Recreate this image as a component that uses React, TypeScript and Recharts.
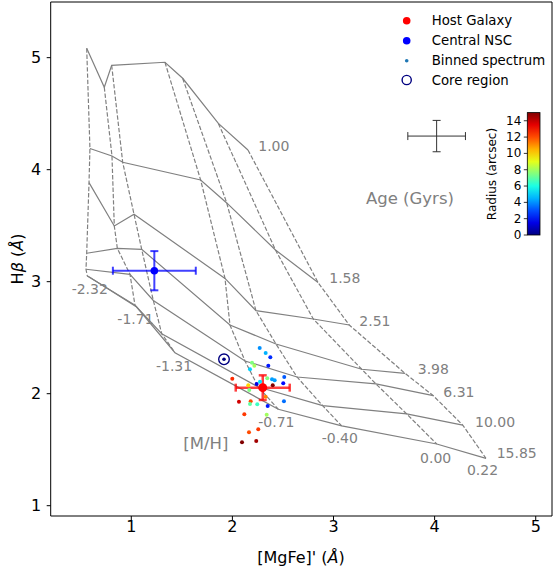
import React from 'react';
import { ComposedChart, Line, Scatter, XAxis, YAxis, ErrorBar, ReferenceLine } from 'recharts';

// ---- model grid (rows = ages, columns = metallicities) ----
const ageLabels = ['1.00', '1.58', '2.51', '3.98', '6.31', '10.00', '15.85'];
const metalLabels = ['-2.32', '-1.71', '-1.31', '-0.71', '-0.40', '0.00', '0.22'];

const modelMgFe = [
  [0.559, 0.733, 0.806, 1.333, 1.508, 1.861, 2.154],
  [0.591, 0.809, 0.915, 1.686, 1.944, 2.426, 2.847],
  [0.582, 0.832, 1.027, 1.927, 2.233, 2.8, 3.156],
  [0.559, 0.862, 1.103, 1.976, 2.431, 3.279, 3.707],
  [0.552, 0.987, 1.218, 2.125, 2.639, 3.42, 3.987],
  [0.565, 1.037, 1.301, 2.256, 2.893, 3.724, 4.278],
  [0.585, 1.053, 1.432, 2.454, 3.081, 4.021, 4.508],
];
const modelHbeta = [
  [5.084, 4.736, 4.932, 4.959, 4.816, 4.413, 4.176],
  [4.189, 4.122, 4.066, 3.908, 3.703, 3.283, 2.993],
  [3.884, 3.497, 3.602, 3.029, 2.741, 2.667, 2.613],
  [3.254, 3.298, 3.289, 2.613, 2.444, 2.218, 2.182],
  [3.111, 3.066, 2.832, 2.292, 2.149, 2.087, 1.982],
  [3.051, 2.789, 2.536, 2.06, 1.893, 1.819, 1.72],
  [3.042, 2.774, 2.366, 1.861, 1.712, 1.551, 1.423],
];

// label anchor positions (left edge, vertical centre)
const ageLabelX = [2.256, 2.958, 3.255, 3.833, 4.086, 4.4, 4.614];
const ageLabelY = [4.214, 3.03, 2.652, 2.221, 2.018, 1.75, 1.468];
const metalLabelX = [0.41, 0.862, 1.244, 2.256, 2.883, 3.856, 4.32];
const metalLabelY = [2.932, 2.664, 2.247, 1.75, 1.602, 1.423, 1.319];
const axisNoteText = ['[M/H]', 'Age (Gyrs)'];
const axisNoteX = [1.514, 3.321];
const axisNoteY = [1.557, 3.745];

// ---- binned spectra ----
const binMgFe = [2.27, 2.329, 2.375, 2.194, 2.217, 2.355, 2.174, 1.999, 2.345, 2.392, 2.418, 2.513, 2.503, 2.399, 2.24, 2.157, 2.273, 2.167, 2.329, 2.065, 2.181, 2.174, 2.246, 2.349, 2.51, 2.118, 2.339, 2.256, 2.164, 2.095, 2.236];
const binHbeta = [2.408, 2.363, 2.325, 2.277, 2.25, 2.25, 2.218, 2.134, 2.138, 2.129, 2.12, 2.149, 2.093, 2.075, 2.087, 2.075, 2.107, 2.033, 1.973, 1.929, 1.932, 1.908, 1.905, 1.89, 1.932, 1.816, 1.812, 1.682, 1.655, 1.566, 1.578];
const binRadius = [4, 4.5, 2.5, 7.5, 8, 2.2, 5, 12.5, 7.5, 4.2, 4.2, 3.2, 2, 15, 1.5, 10, 5.2, 7.5, 11.2, 13.8, 12, 7, 6.5, 2.2, 3.5, 12.3, 8, 12.3, 12, 15, 14.5];

// ---- single measurements ----
const hostPoint = [{ x: 2.3, y: 2.054, ex: 0.267, ey: 0.11 }];
const nscPoint = [{ x: 1.228, y: 3.098, ex: 0.41, ey: 0.175 }];
const corePoint = [{ x: 1.917, y: 2.307 }];
const typicalError = [{ x: 4.02, y: 4.3, ex: 0.285, ey: 0.14 }];

const xTicks = [1, 2, 3, 4, 5];
const yTicks = [1, 2, 3, 4, 5];
const cbarTicks = [0, 2, 4, 6, 8, 10, 12, 14];
const radiusMax = 15;

const FONT = 'DejaVu Sans, sans-serif';
const GRAY = '#808080';

function clamp(v: number) {
  return Math.max(0, Math.min(1, v));
}
function jet(t: number) {
  const r = clamp(1.5 - Math.abs(4 * t - 3));
  const g = clamp(1.5 - Math.abs(4 * t - 2));
  const b = clamp(1.5 - Math.abs(4 * t - 1));
  const h = (v: number) => Math.round(v * 255).toString(16).padStart(2, '0');
  return '#' + h(r) + h(g) + h(b);
}

const ageLines = modelMgFe.map((row, i) => row.map((x, j) => ({ x, y: modelHbeta[i][j] })));
const metalLines = metalLabels.map((_, j) => modelMgFe.map((row, i) => ({ x: row[j], y: modelHbeta[i][j] })));
const binData = binMgFe.map((x, i) => ({ x, y: binHbeta[i], r: binRadius[i] }));
const textData = [
  ...ageLabels.map((t, i) => ({ x: ageLabelX[i], y: ageLabelY[i], text: t, size: 14 })),
  ...metalLabels.map((t, i) => ({ x: metalLabelX[i], y: metalLabelY[i], text: t, size: 14 })),
  ...axisNoteText.map((t, i) => ({ x: axisNoteX[i], y: axisNoteY[i], text: t, size: 16.5 })),
];

const TextShape = (p: any) => (
  <text x={p.cx} y={p.cy} fill={GRAY} fontSize={p.payload.size} fontFamily={FONT} textAnchor="start" dominantBaseline="central">
    {p.payload.text}
  </text>
);
const BinShape = (p: any) => <circle cx={p.cx} cy={p.cy} r={2} fill={jet(p.payload.r / radiusMax)} />;
const NoShape = () => <g />;
const HostShape = (p: any) => <circle cx={p.cx} cy={p.cy} r={4.5} fill="#ff0000" />;
const NscShape = (p: any) => <circle cx={p.cx} cy={p.cy} r={3.8} fill="#0000ff" />;
const CoreShape = (p: any) => (
  <g>
    <circle cx={p.cx} cy={p.cy} r={5.3} fill="none" stroke="#000080" strokeWidth={1.4} />
    <circle cx={p.cx} cy={p.cy} r={1.8} fill="#000080" />
  </g>
);

const legendItems = [
  { label: 'Host Galaxy', kind: 'host' },
  { label: 'Central NSC', kind: 'nsc' },
  { label: 'Binned spectrum', kind: 'bin' },
  { label: 'Core region', kind: 'core' },
];

export default function App() {
  const cbTop = 112.6;
  const cbBottom = 235;
  const cbLeft = 527.3;
  const cbWidth = 12.7;
  const stops = Array.from({ length: 11 }, (_, i) => i / 10);
  return (
    <div style={{ position: 'absolute', left: 0, top: 0, width: 555, height: 574, background: '#fff' }}>
      <ComposedChart width={555} height={574} margin={{ top: 2, right: 3, left: 0, bottom: 0 }}>
        <XAxis
          type="number"
          dataKey="x"
          domain={[0.203, 5.161]}
          ticks={xTicks}
          allowDataOverflow
          height={58}
          tickSize={4}
          tickMargin={1}
          stroke="#000"
          tick={{ fill: '#000', fontSize: 16, fontFamily: FONT }}
        />
        <YAxis
          type="number"
          dataKey="y"
          domain={[0.908, 5.497]}
          ticks={yTicks}
          allowDataOverflow
          width={50.7}
          tickSize={4}
          tickMargin={5.5}
          stroke="#000"
          tick={{ fill: '#000', fontSize: 16, fontFamily: FONT }}
        />
        <ReferenceLine y={5.497} stroke="#000" strokeWidth={1} />
        <ReferenceLine x={5.161} stroke="#000" strokeWidth={1} />
        {ageLines.map((d, i) => (
          <Line key={'a' + i} data={d} dataKey="y" type="linear" stroke={GRAY} strokeWidth={1.2} dot={false} activeDot={false} isAnimationActive={false} />
        ))}
        {metalLines.map((d, i) => (
          <Line key={'m' + i} data={d} dataKey="y" type="linear" stroke={GRAY} strokeWidth={1.2} strokeDasharray="4.4 1.9" dot={false} activeDot={false} isAnimationActive={false} />
        ))}
        <Scatter data={textData} shape={TextShape} isAnimationActive={false} />
        <Scatter data={binData} shape={BinShape} isAnimationActive={false} />
        <Scatter data={corePoint} shape={CoreShape} isAnimationActive={false} />
        <Scatter data={typicalError} shape={NoShape} isAnimationActive={false}>
          <ErrorBar dataKey="ex" direction="x" width={4} stroke="#333" strokeWidth={1} />
          <ErrorBar dataKey="ey" direction="y" width={4} stroke="#333" strokeWidth={1} />
        </Scatter>
        <Scatter data={nscPoint} shape={NscShape} isAnimationActive={false}>
          <ErrorBar dataKey="ex" direction="x" width={4} stroke="#0000ff" strokeOpacity={0.75} strokeWidth={2} />
          <ErrorBar dataKey="ey" direction="y" width={4} stroke="#0000ff" strokeOpacity={0.75} strokeWidth={2} />
        </Scatter>
        <Scatter data={hostPoint} shape={HostShape} isAnimationActive={false}>
          <ErrorBar dataKey="ex" direction="x" width={4} stroke="#ff0000" strokeOpacity={0.75} strokeWidth={2.5} />
          <ErrorBar dataKey="ey" direction="y" width={4} stroke="#ff0000" strokeOpacity={0.75} strokeWidth={2.5} />
        </Scatter>
      </ComposedChart>
      <svg width={555} height={574} style={{ position: 'absolute', left: 0, top: 0, pointerEvents: 'none' }}>
        <defs>
          <linearGradient id="jetGrad" x1="0" y1="1" x2="0" y2="0">
            {stops.map((s) => (
              <stop key={s} offset={s} stopColor={jet(s)} />
            ))}
          </linearGradient>
        </defs>
        {/* axis titles */}
        <text x={301} y={557} textAnchor="middle" dominantBaseline="central" fontSize={16} fontFamily={FONT} fill="#000">
          [MgFe]' (<tspan fontStyle="italic">Å</tspan>)
        </text>
        <text x={17} y={259} transform="rotate(-90 17 259)" textAnchor="middle" dominantBaseline="central" fontSize={16} fontFamily={FONT} fill="#000">
          H<tspan fontStyle="italic">β</tspan> (<tspan fontStyle="italic">Å</tspan>)
        </text>
        {/* legend */}
        {legendItems.map((it, i) => {
          const y = [20.7, 40.7, 60.7, 80][i];
          return (
            <g key={it.label}>
              {it.kind === 'host' && <circle cx={406.7} cy={y} r={3.8} fill="#ff0000" />}
              {it.kind === 'nsc' && <circle cx={406.7} cy={y} r={3.8} fill="#0000ff" />}
              {it.kind === 'bin' && <circle cx={406.7} cy={y} r={1.8} fill="#1f77b4" />}
              {it.kind === 'core' && <circle cx={406.7} cy={y} r={4.6} fill="none" stroke="#000080" strokeWidth={1.4} />}
              <text x={431.7} y={y} dominantBaseline="central" fontSize={13.3} fontFamily={FONT} fill="#000">
                {it.label}
              </text>
            </g>
          );
        })}
        {/* colorbar */}
        <rect x={cbLeft} y={cbTop} width={cbWidth} height={cbBottom - cbTop} fill="url(#jetGrad)" stroke="#000" strokeWidth={0.8} />
        {cbarTicks.map((v) => {
          const y = cbBottom - (v / radiusMax) * (cbBottom - cbTop);
          return (
            <g key={v}>
              <line x1={cbLeft} x2={cbLeft - 3.5} y1={y} y2={y} stroke="#000" strokeWidth={0.8} />
              <text x={cbLeft - 6} y={y} textAnchor="end" dominantBaseline="central" fontSize={12} fontFamily={FONT} fill="#000">
                {v}
              </text>
            </g>
          );
        })}
        <text x={492.3} y={174} transform="rotate(-90 492.3 174)" textAnchor="middle" dominantBaseline="central" fontSize={12} fontFamily={FONT} fill="#000">
          Radius (arcsec)
        </text>
      </svg>
    </div>
  );
}
